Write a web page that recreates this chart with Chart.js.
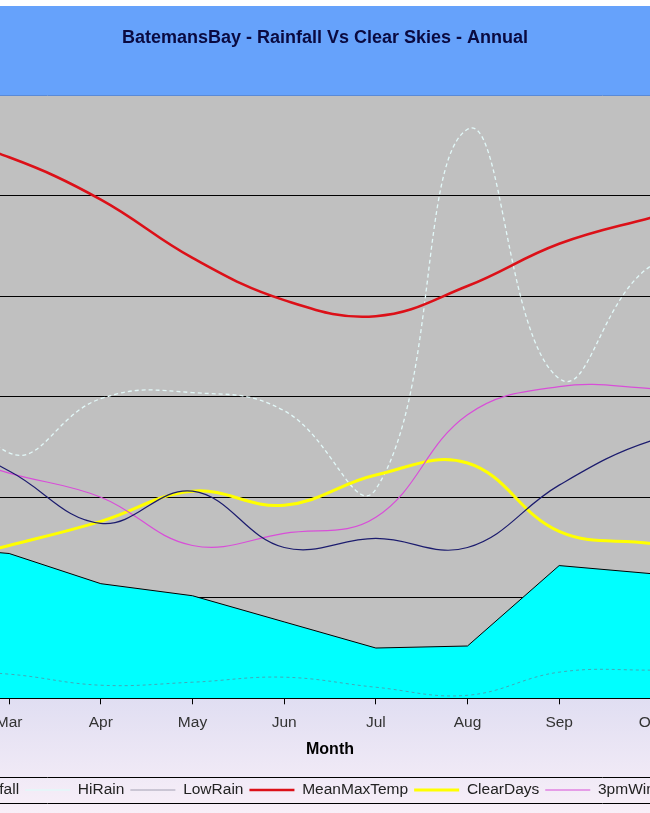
<!DOCTYPE html>
<html>
<head>
<meta charset="utf-8">
<script src="https://cdn.jsdelivr.net/npm/chart.js@4.4.0/dist/chart.umd.min.js"></script>
<style>
  html, body { margin: 0; padding: 0; background: #fff; }
  #wrap { position: relative; width: 650px; height: 813px; overflow: hidden; }
  #chart { position: absolute; left: -230px; top: 0; }
</style>
</head>
<body>
<div id="wrap"><canvas id="chart" width="1110" height="813"></canvas></div>
<script>
// data (Jan, Feb, Nov, Dec are outside the crop, so they are estimates)
const months = ['Jan', 'Feb', 'Mar', 'Apr', 'May', 'Jun', 'Jul', 'Aug', 'Sep', 'Oct', 'Nov', 'Dec'];
const rainfall = [6.5, 7.6, 7.2, 5.7, 5.1, 3.8, 2.5, 2.6, 6.6, 6.2, 5.6, 5.2];
const hiRain = [18.0, 19.0, 12.2, 14.9, 15.2, 14.3, 10.4, 28.3, 15.9, 21.5, 22.0, 19.0];
const lowRain = [1.0, 1.4, 1.2, 0.65, 0.8, 1.05, 0.55, 0.15, 1.3, 1.4, 1.3, 1.1];
const meanMaxTemp = [27.8, 28.2, 26.9, 24.8, 21.9, 19.8, 19.0, 20.5, 22.6, 23.9, 25.1, 26.5];
const clearDays = [6.0, 6.5, 7.6, 8.8, 10.3, 9.6, 11.1, 11.7, 8.3, 7.7, 7.0, 6.5];
const wind3pm = [13.5, 12.6, 11.2, 10.0, 7.6, 8.2, 9.0, 14.1, 15.5, 15.4, 15.0, 14.2];
const wind9am = [13.0, 13.4, 11.3, 8.7, 10.3, 7.5, 7.95, 7.5, 10.6, 12.8, 13.6, 13.2];

const FONT = "'Liberation Sans', Arial, sans-serif";
const LEGEND_SHIFT = 71;

// background bands, plot colour and the legend frame
const backdrop = {
  id: 'backdrop',
  beforeDraw(chart) {
    const { ctx, chartArea: a, width, height } = chart;
    ctx.save();
    ctx.fillStyle = '#ffffff';
    ctx.fillRect(0, 0, width, height);
    ctx.fillStyle = '#66a2fb';
    ctx.fillRect(0, 6, width, a.top - 6);
    const g = ctx.createLinearGradient(0, a.bottom, 0, height);
    g.addColorStop(0, '#e0def2');
    g.addColorStop(1, '#f8eff8');
    ctx.fillStyle = g;
    ctx.fillRect(0, a.bottom, width, height - a.bottom);
    ctx.fillStyle = '#c0c0c0';
    ctx.fillRect(a.left, a.top, a.right - a.left, a.bottom - a.top);
    ctx.strokeStyle = '#5a8ad6';
    ctx.lineWidth = 1;
    ctx.beginPath();
    ctx.moveTo(0, a.top + 0.5);
    ctx.lineTo(width, a.top + 0.5);
    ctx.stroke();
    // legend frame
    const lg = chart.legend;
    const c = lg.top + 6 + 7.75;
    ctx.strokeStyle = '#000';
    ctx.beginPath();
    ctx.moveTo(0, Math.round(c - 13) + 0.5);
    ctx.lineTo(width, Math.round(c - 13) + 0.5);
    ctx.moveTo(0, Math.round(c + 13) + 0.5);
    ctx.lineTo(width, Math.round(c + 13) + 0.5);
    ctx.stroke();
    ctx.restore();
  }
};

const legendShift = {
  id: 'legendShift',
  afterLayout(chart) {
    chart.legend.left += LEGEND_SHIFT;
    chart.legend.right += LEGEND_SHIFT;
  }
};

const line = (label, data, color, width, extra) => Object.assign({
  label: label,
  data: data,
  borderColor: color,
  backgroundColor: color,
  borderWidth: width,
  pointRadius: 0,
  pointHoverRadius: 0,
  tension: 0.4,
  fill: false
}, extra || {});

const datasets = [
  line('Rainfall', rainfall, '#000000', 1, { backgroundColor: '#00ffff', fill: 'origin', tension: 0 }),
  line('HiRain', hiRain, '#e2f8f8', 1.3, { borderDash: [4, 3], tension: 0.45 }),
  line('LowRain', lowRain, 'rgba(110,110,135,0.6)', 1, { borderDash: [3, 3] }),
  line('MeanMaxTemp', meanMaxTemp, '#dc1018', 2.6),
  line('ClearDays', clearDays, '#ffff00', 3),
  line('3pmWindSpeed', wind3pm, '#d84ed8', 1.2),
  line('9amWindSpeed', wind9am, '#1c1c6e', 1.2)
];
// later series sit on top, as in the original
datasets.forEach((d, i) => { d.order = datasets.length - i; });

new Chart(document.getElementById('chart'), {
  type: 'line',
  data: { labels: months, datasets: datasets },
  plugins: [backdrop, legendShift],
  options: {
    responsive: false,
    animation: false,
    events: [],
    layout: { padding: { left: 0, right: 0, top: 0, bottom: 5.25 } },
    plugins: {
      title: {
        display: true,
        text: 'BatemansBay - Rainfall Vs Clear Skies - Annual',
        color: '#0a0a40',
        font: { family: FONT, size: 18, weight: 'bold' },
        padding: { top: 27.2, bottom: 46.2 }
      },
      legend: {
        position: 'bottom',
        labels: {
          usePointStyle: true,
          pointStyle: 'line',
          pointStyleWidth: 45,
          padding: 6,
          color: '#222',
          font: { family: FONT, size: 15.5 },
          sort: (a, b) => a.datasetIndex - b.datasetIndex
        }
      },
      tooltip: { enabled: false }
    },
    scales: {
      x: {
        offset: true,
        grid: { drawOnChartArea: false, drawTicks: true, tickLength: 6, color: '#000', lineWidth: 1 },
        border: { display: true, color: '#000', width: 2 },
        ticks: { color: '#333', font: { family: FONT, size: 15.5 }, padding: 8.7, maxRotation: 0, autoSkip: false },
        title: {
          display: true,
          text: 'Month',
          color: '#000',
          font: { family: FONT, size: 16, weight: 'bold' },
          padding: { top: 0, bottom: 16.75 }
        }
      },
      y: {
        min: 0,
        max: 30,
        afterFit: scale => { scale.width = 10; },
        ticks: { display: false, stepSize: 5 },
        grid: {
          drawTicks: false,
          lineWidth: 1,
          color: ctx => (ctx.tick.value === 0 || ctx.tick.value === 30) ? 'rgba(0,0,0,0)' : '#000'
        },
        border: { display: false }
      }
    }
  }
});
</script>
</body>
</html>
